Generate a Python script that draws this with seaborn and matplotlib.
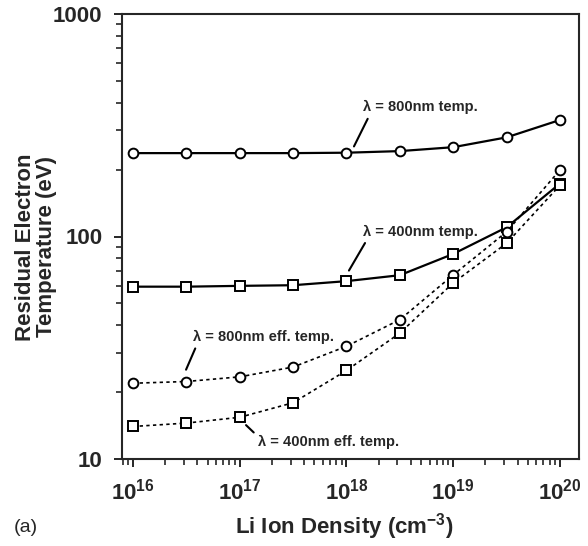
import matplotlib
matplotlib.use("Agg")
import matplotlib.pyplot as plt
import matplotlib.ticker as mticker
import numpy as np
import pandas as pd
import seaborn as sns

# Li ion density (cm^-3)
density = [1e16, 10**16.5, 1e17, 10**17.5, 1e18, 10**18.5, 1e19, 10**19.5, 1e20]

# residual electron temperature (eV)
temp_800 = [237, 237, 237, 237, 238, 242, 252, 279, 334]
temp_400 = [59.5, 59.5, 60, 60.4, 63, 67, 83.5, 110, 173]
eff_800 = [21.9, 22.3, 23.4, 25.9, 32.1, 42.3, 67.2, 105, 199]
eff_400 = [14.0, 14.5, 15.4, 17.9, 25.0, 36.8, 61.9, 93.3, 170]

sns.set_style("ticks")
plt.rcParams['font.family'] = ['Liberation Sans', 'DejaVu Sans']
plt.rcParams['font.weight'] = 'bold'
plt.rcParams['mathtext.fontset'] = 'custom'
plt.rcParams['mathtext.rm'] = 'Liberation Sans:bold'
plt.rcParams['mathtext.bf'] = 'Liberation Sans:bold'
plt.rcParams['mathtext.it'] = 'Liberation Sans:bold'

fig = plt.figure(figsize=(5.88, 5.46), dpi=100)
ax = fig.add_axes([122 / 588, 1 - 459 / 546, 457 / 588, 445 / 546])

df = pd.DataFrame({"density": density, "t800": temp_800, "t400": temp_400,
                   "e800": eff_800, "e400": eff_400})

common = dict(color="black", markerfacecolor="white", markeredgecolor="black",
              markeredgewidth=1.4, estimator=None, sort=False, ax=ax)
sns.lineplot(data=df, x="density", y="t800", marker="o", markersize=7,
             linewidth=1.6, **common)
sns.lineplot(data=df, x="density", y="t400", marker="s", markersize=7.5,
             linewidth=1.6, **common)
sns.lineplot(data=df, x="density", y="e800", marker="o", markersize=7,
             linewidth=1.2, linestyle=(0, (2, 2)), **common)
sns.lineplot(data=df, x="density", y="e400", marker="s", markersize=7.5,
             linewidth=1.2, linestyle=(0, (2, 2)), **common)

ax.set_xscale("log")
ax.set_yscale("log")
ax.set_xlim(10**15.897, 10**20.178)
ax.set_ylim(10, 1000)

ax.xaxis.set_major_locator(mticker.FixedLocator([1e16, 1e17, 1e18, 1e19, 1e20]))
ax.xaxis.set_major_formatter(mticker.FixedFormatter(
    [r"$\mathbf{10^{16}}$", r"$\mathbf{10^{17}}$", r"$\mathbf{10^{18}}$",
     r"$\mathbf{10^{19}}$", r"$\mathbf{10^{20}}$"]))
ax.xaxis.set_minor_locator(mticker.LogLocator(base=10, subs=np.arange(2, 10), numticks=20))
ax.yaxis.set_major_locator(mticker.FixedLocator([10, 100, 1000]))
ax.yaxis.set_major_formatter(mticker.FixedFormatter(["10", "100", "1000"]))
ax.yaxis.set_minor_locator(mticker.LogLocator(base=10, subs=np.arange(2, 10), numticks=20))
ax.yaxis.set_minor_formatter(mticker.NullFormatter())
ax.xaxis.set_minor_formatter(mticker.NullFormatter())

ax.tick_params(which="major", direction="out", length=6, width=1.4, labelsize=16, pad=8)
ax.tick_params(which="minor", direction="out", length=4, width=1.2)
ax.tick_params(top=False, right=False)
for s in ax.spines.values():
    s.set_linewidth(1.5)
    s.set_visible(True)
ax.set_xlabel("")
ax.set_ylabel("")

arrow = dict(arrowstyle="-", lw=1.5, color="black", shrinkA=1, shrinkB=0)
ax.annotate("λ = 800nm temp.", xy=(10**18.07, 254), xytext=(10**18.155, 381),
            ha="left", va="center", fontsize=10.5, fontweight="bold",
            arrowprops=dict(arrow, relpos=(0.06, 0)))
ax.annotate("λ = 400nm temp.", xy=(10**18.023, 70.3), xytext=(10**18.155, 105.3),
            ha="left", va="center", fontsize=10.5, fontweight="bold",
            arrowprops=dict(arrow, relpos=(0.04, 0)))
ax.annotate("λ = 800nm eff. temp.", xy=(10**16.497, 25.2), xytext=(10**16.562, 35.4),
            ha="left", va="center", fontsize=10.5, fontweight="bold",
            arrowprops=dict(arrow, relpos=(0.03, 0)))
ax.annotate("λ = 400nm eff. temp.", xy=(10**17.059, 14.2), xytext=(10**17.171, 11.9),
            ha="left", va="center", fontsize=10.5, fontweight="bold",
            arrowprops=dict(arrow, relpos=(0.0, 0.9)))

fig.text(36 / 588, 1 - 247 / 546, "Residual Electron\nTemperature (eV)", rotation=90,
         ha="center", va="center", fontsize=16, fontweight="bold", linespacing=1.0)
fig.text(344 / 588, 1 - 527 / 546, r"Li Ion Density (cm$^{\mathbf{-3}}$)",
         ha="center", va="center", fontsize=16, fontweight="bold")
fig.text(14 / 588, 1 - 527 / 546, "(a)", ha="left", va="center", fontsize=14,
         fontweight="normal")

fig.savefig("out.png", dpi=100)
